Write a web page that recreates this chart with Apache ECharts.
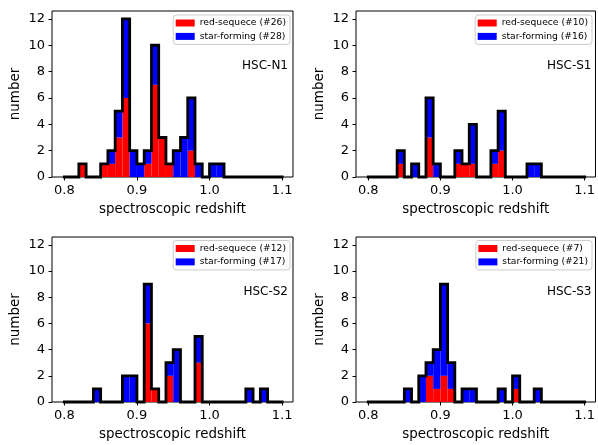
<!DOCTYPE html>
<html>
<head>
<meta charset="utf-8">
<script src="https://cdn.jsdelivr.net/npm/echarts@6/dist/echarts.min.js"></script>
<style>
html, body { margin: 0; padding: 0; background: #fff; }
#chart { width: 598px; height: 445px; }
</style>
</head>
<body>
<div id="chart"></div>
<script>
// histogram bins: 30 bins of 0.01 from 0.80 to 1.10
const binStart = 0.8
const binWidth = 0.01
const xTicks = [0.8, 0.9, 1.0, 1.1]
const yTicks = [0, 2, 4, 6, 8, 10, 12]

const fields = ['HSC-N1', 'HSC-S1', 'HSC-S2', 'HSC-S3']

// counts per bin, red-sequence and star-forming
const redN1  = [0,0,1,0,0,1,1,3,6,0, 0,1,7,3,1,0,0,2,0,0, 0,0,0,0,0,0,0,0,0,0]
const blueN1 = [0,0,0,0,0,0,1,2,6,2, 1,1,3,0,0,2,3,4,1,0, 1,1,0,0,0,0,0,0,0,0]
const redS1  = [0,0,0,0,1,0,0,0,3,0, 0,0,1,1,1,0,0,1,2,0, 0,0,0,0,0,0,0,0,0,0]
const blueS1 = [0,0,0,0,1,0,1,0,3,1, 0,0,1,0,3,0,0,1,3,0, 0,0,1,1,0,0,0,0,0,0]
const redS2  = [0,0,0,0,0,0,0,0,0,0, 0,6,1,0,2,0,0,0,3,0, 0,0,0,0,0,0,0,0,0,0]
const blueS2 = [0,0,0,0,1,0,0,0,2,2, 0,3,0,0,1,4,0,0,2,0, 0,0,0,0,0,1,0,1,0,0]
const redS3  = [0,0,0,0,0,0,0,0,2,1, 2,1,0,0,0,0,0,0,0,0, 1,0,0,0,0,0,0,0,0,0]
const blueS3 = [0,0,0,0,0,1,0,2,1,3, 7,2,0,1,1,0,0,0,1,0, 1,0,0,1,0,0,0,0,0,0]

const redCounts = [redN1, redS1, redS2, redS3]
const blueCounts = [blueN1, blueS1, blueS2, blueS3]

const font = 'DejaVu Sans'
const gridLeft = [52, 356, 52, 356]
const gridTop = [11, 11, 237, 237]
const gridHeight = [166, 166, 165, 165]
const legendRight = [308, 6, 308, 6]
const legendTop = [15, 15, 240.5, 240.5]
const labelRight = [310, 6.5, 310, 6.5]
const labelTop = [59, 59, 285, 285]

const chart = echarts.init(document.getElementById('chart'), null, { renderer: 'canvas' })

const sum = arr => arr.reduce((a, b) => a + b, 0)

function renderBin(params, api) {
  const p0 = api.coord([api.value(0), api.value(2)])
  const p1 = api.coord([api.value(1), api.value(3)])
  return {
    type: 'rect',
    shape: { x: p0[0], y: p1[1], width: p1[0] - p0[0], height: p0[1] - p1[1] },
    style: { fill: api.visual('color') }
  }
}

// step outline of the stacked totals, without repeated points
function stepOutline(totals) {
  const pts = [[binStart, 0]]
  let prev = 0
  totals.forEach((t, i) => {
    const x = binStart + i * binWidth
    if (t !== prev) {
      pts.push([x, prev])
      pts.push([x, t])
    }
    prev = t
  })
  const xEnd = binStart + totals.length * binWidth
  if (prev !== 0) pts.push([xEnd, prev])
  pts.push([xEnd, 0])
  // drop collinear points on flat runs
  return pts.filter((p, i) => {
    if (i === 0 || i === pts.length - 1) return true
    const a = pts[i - 1], b = pts[i + 1]
    return !((a[1] === p[1] && b[1] === p[1]) || (a[0] === p[0] && b[0] === p[0]))
  })
}

const grids = [], xAxes = [], yAxes = [], series = [], legends = [], titles = []

fields.forEach((field, k) => {
  const red = redCounts[k]
  const blue = blueCounts[k]
  const redName = `red-sequece (#${sum(red)})`
  const blueName = `star-forming (#${sum(blue)})`

  grids.push({
    left: gridLeft[k], top: gridTop[k], width: 241, height: gridHeight[k],
    show: true, borderColor: '#000', borderWidth: 1, backgroundColor: 'transparent'
  })

  xAxes.push({
    gridIndex: k, type: 'value', min: 0.783, max: 1.115,
    name: 'spectroscopic redshift', nameLocation: 'middle', nameGap: 26,
    nameTextStyle: { fontSize: 13.4, color: '#000', fontFamily: font },
    axisLine: { show: false },
    axisTick: { show: true, length: 3.5, customValues: xTicks, lineStyle: { color: '#000' } },
    axisLabel: { customValues: xTicks, fontSize: 13, color: '#000', fontFamily: font, margin: 7,
      formatter: v => v.toFixed(1) },
    splitLine: { show: false }
  })

  yAxes.push({
    gridIndex: k, type: 'value', min: 0, max: 12.6,
    name: 'number', nameLocation: 'middle', nameGap: 30,
    nameTextStyle: { fontSize: 13.4, color: '#000', fontFamily: font },
    axisLine: { show: false },
    axisTick: { show: true, length: 3.5, customValues: yTicks, lineStyle: { color: '#000' } },
    axisLabel: { customValues: yTicks, fontSize: 13, color: '#000', fontFamily: font, margin: 7 },
    splitLine: { show: false }
  })

  const redData = [], blueData = [], totals = []
  red.forEach((r, i) => {
    const x0 = binStart + i * binWidth
    const x1 = x0 + binWidth
    if (r > 0) redData.push([x0, x1, 0, r])
    if (blue[i] > 0) blueData.push([x0, x1, r, r + blue[i]])
    totals.push(r + blue[i])
  })

  series.push({
    name: redName, type: 'custom', xAxisIndex: k, yAxisIndex: k,
    renderItem: renderBin, itemStyle: { color: '#ff0000' },
    encode: { x: [0, 1], y: [2, 3] }, data: redData, z: 2
  })
  series.push({
    name: blueName, type: 'custom', xAxisIndex: k, yAxisIndex: k,
    renderItem: renderBin, itemStyle: { color: '#0000ff' },
    encode: { x: [0, 1], y: [2, 3] }, data: blueData, z: 2
  })
  series.push({
    name: 'outline' + k, type: 'line', xAxisIndex: k, yAxisIndex: k,
    data: stepOutline(totals), symbol: 'none', clip: false, silent: true, z: 3,
    lineStyle: { color: '#000', width: 2.8, join: 'miter', cap: 'square' }
  })

  legends.push({
    data: [redName, blueName], right: legendRight[k], top: legendTop[k],
    orient: 'vertical', align: 'left', icon: 'rect',
    itemWidth: 19, itemHeight: 7, itemGap: 2.4,
    padding: [2.5, 4, 2.5, 2.5],
    backgroundColor: 'rgba(255,255,255,0.8)', borderColor: '#ccc', borderWidth: 1, borderRadius: 3,
    textStyle: { fontSize: 9.2, lineHeight: 11, color: '#000', fontFamily: font },
    selectedMode: false
  })

  titles.push({
    text: field, right: labelRight[k], top: labelTop[k], padding: 0,
    textStyle: { fontSize: 12, fontWeight: 'normal', color: '#000', fontFamily: font, lineHeight: 14 }
  })
})

chart.setOption({
  animation: false,
  backgroundColor: '#fff',
  title: titles,
  legend: legends,
  grid: grids,
  xAxis: xAxes,
  yAxis: yAxes,
  series: series
})
</script>
</body>
</html>
